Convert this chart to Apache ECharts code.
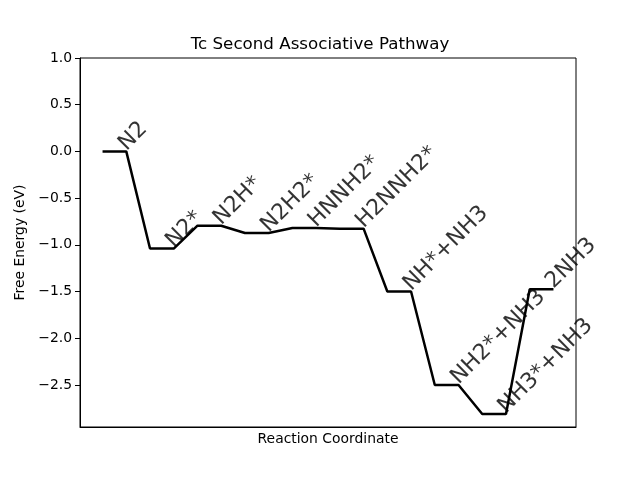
<!DOCTYPE html>
<html><head><meta charset="utf-8">
<script src="https://cdn.jsdelivr.net/npm/echarts@6/dist/echarts.min.js"></script>
<style>html,body{margin:0;padding:0;background:#fff}#c{width:640px;height:480px}</style>
</head><body><div id="c"></div>
<script>
const states = ['N2','N2*','N2H*','N2H2*','HNNH2*','H2NNH2*','NH*+NH3','NH2*+NH3','NH3*+NH3','2NH3'];
const energies = [0.0,-1.04,-0.795,-0.874,-0.82,-0.827,-1.50,-2.50,-2.81,-1.476];
const yTicks = [-2.5,-2.0,-1.5,-1.0,-0.5,0.0,0.5,1.0];
const titleText = 'Tc Second Associative Pathway';
const xName = 'Reaction Coordinate';
const yName = 'Free Energy (eV)';

const lineData = [];
const labelData = [];
states.forEach((s, i) => {
  lineData.push([2*i, energies[i]]);
  lineData.push([2*i+1, energies[i]]);
  labelData.push([2*i, energies[i], s]);
});
const F = 'DejaVu Sans';
const chart = echarts.init(document.getElementById('c'), null, {renderer:'canvas'});
chart.setOption({
  animation: false,
  backgroundColor: '#fff',
  title: {text: titleText, left: 'center', top: 31, textStyle: {fontFamily: F, fontSize: 16.7, fontWeight: 'normal', color: '#000'}},
  grid: {left: 80, right: 64, top: 58, bottom: 53, show: true, borderColor: '#000', borderWidth: 1, backgroundColor: 'transparent'},
  xAxis: {type: 'value', min: -0.95, max: 19.95, name: xName, nameLocation: 'middle', nameGap: 5,
    nameTextStyle: {fontFamily: F, fontSize: 13.9, color: '#000'},
    axisLine: {show: true, onZero: false, lineStyle: {color: '#000', width: 1}}, axisTick: {show: false}, axisLabel: {show: false}, splitLine: {show: false}},
  yAxis: {type: 'value', min: -2.95, max: 1.0, name: yName, nameLocation: 'middle', nameGap: 48,
    nameTextStyle: {fontFamily: F, fontSize: 13.9, color: '#000'},
    axisLine: {show: true, onZero: false, lineStyle: {color: '#000', width: 1}},
    axisTick: {show: true, customValues: yTicks, length: 5, lineStyle: {color: '#000', width: 1}},
    axisLabel: {show: true, customValues: yTicks, margin: 8, fontFamily: F, fontSize: 13.9, color: '#000',
      formatter: v => v.toFixed(1).replace('-', '\u2212')},
    splitLine: {show: false}},
  series: [
    {type: 'line', data: lineData, symbol: 'none', lineStyle: {color: '#000', width: 2.5}, z: 3},
    {type: 'scatter', data: labelData, symbolSize: 0, z: 4,
      label: {show: true, position: 'inside', align: 'left', verticalAlign: 'bottom', rotate: 45, offset: [17, 22],
        formatter: p => p.data[2], fontFamily: F, fontSize: 22, color: '#000'}}
  ]
});
</script></body></html>
